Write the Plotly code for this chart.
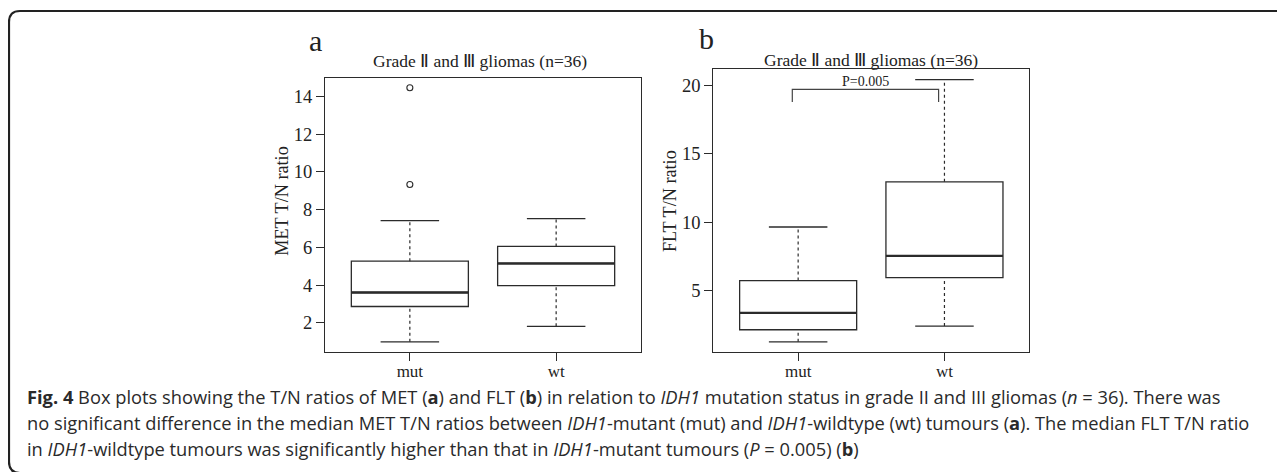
import plotly.graph_objects as go

# ---------------- data ----------------
groups = ["mut", "wt"]
positions = [1, 2]

# Panel a: MET T/N ratio
met_lower = [1.00, 1.82]
met_q1 = [2.87, 3.98]
met_median = [3.61, 5.15]
met_q3 = [5.27, 6.05]
met_upper = [7.42, 7.52]
met_outliers_mut = [9.33, 14.45]
met_yticks = [2, 4, 6, 8, 10, 12, 14]

# Panel b: FLT T/N ratio
flt_lower = [1.28, 2.43]
flt_q1 = [2.16, 5.97]
flt_median = [3.39, 7.55]
flt_q3 = [5.75, 12.96]
flt_upper = [9.66, 20.41]
flt_yticks = [5, 10, 15, 20]

# significance bracket (panel b)
sig_x = [0.96, 1.96]
sig_y = 19.71
sig_drop = 18.78
sig_label = "P=0.005"

title_txt = "Grade \u2161 and \u2162 gliomas (n=36)"

W, H = 1285, 472
OFF = 8  # page body margin
def px(x):
    return (x - OFF) / W
def py(y):
    return 1 - (y - OFF) / H

BOXW = 0.8
CAPW = 0.4
LC = "#2b2b2b"
SERIF = "Liberation Serif, Times New Roman, serif"

fig = go.Figure()

def add_panel(xa, ya, lower, q1, med, q3, upper):
    for i, p in enumerate(positions):
        fig.add_trace(go.Box(
            x=[p], q1=[q1[i]], median=[med[i]], q3=[q3[i]],
            lowerfence=[q1[i]], upperfence=[q3[i]],
            width=BOXW, whiskerwidth=0, fillcolor="white",
            line=dict(color=LC, width=1.3), boxpoints=False,
            showlegend=False, hoverinfo="skip", xaxis=xa, yaxis=ya))
        # dashed whiskers
        fig.add_trace(go.Scatter(
            x=[p, p, None, p, p], y=[lower[i], q1[i], None, q3[i], upper[i]],
            mode="lines", line=dict(color=LC, width=1.2, dash="3px,3px"),
            showlegend=False, hoverinfo="skip", xaxis=xa, yaxis=ya))
        # caps
        fig.add_trace(go.Scatter(
            x=[p - CAPW / 2, p + CAPW / 2, None, p - CAPW / 2, p + CAPW / 2],
            y=[lower[i], lower[i], None, upper[i], upper[i]],
            mode="lines", line=dict(color=LC, width=1.3),
            showlegend=False, hoverinfo="skip", xaxis=xa, yaxis=ya))
        # thick median
        fig.add_trace(go.Scatter(
            x=[p - BOXW / 2, p + BOXW / 2], y=[med[i], med[i]],
            mode="lines", line=dict(color=LC, width=2.4),
            showlegend=False, hoverinfo="skip", xaxis=xa, yaxis=ya))

add_panel("x", "y", met_lower, met_q1, met_median, met_q3, met_upper)
fig.add_trace(go.Scatter(
    x=[positions[0]] * len(met_outliers_mut), y=met_outliers_mut, mode="markers",
    marker=dict(symbol="circle-open", size=6, color=LC, line=dict(width=1.1)),
    showlegend=False, hoverinfo="skip", xaxis="x", yaxis="y"))

add_panel("x2", "y2", flt_lower, flt_q1, flt_median, flt_q3, flt_upper)
fig.add_trace(go.Scatter(
    x=[sig_x[0], sig_x[0], sig_x[1], sig_x[1]],
    y=[sig_drop, sig_y, sig_y, sig_drop],
    mode="lines", line=dict(color="#444", width=1.2),
    showlegend=False, hoverinfo="skip", xaxis="x2", yaxis="y2"))

axis_common = dict(showline=True, mirror=True, linecolor=LC, linewidth=1.3,
                   ticks="outside", ticklen=8, tickwidth=1.2, tickcolor=LC,
                   showgrid=False, zeroline=False)
xfont = dict(family=SERIF, size=17, color="#222")
yfont = dict(family=SERIF, size=18.5, color="#222")

fig.update_layout(
    width=W, height=H, margin=dict(l=0, r=0, t=0, b=0),
    paper_bgcolor="white", plot_bgcolor="white", showlegend=False,
    xaxis=dict(domain=[px(325), px(641)], range=[0.42, 2.58],
               tickvals=positions, ticktext=groups, anchor="y",
               tickfont=xfont, ticklabelstandoff=-5, **axis_common),
    yaxis=dict(domain=[py(352), py(78)], range=[0.46, 14.97],
               tickvals=met_yticks, anchor="x", tickfont=yfont, **axis_common),
    xaxis2=dict(domain=[px(713.3), px(1029.3)], range=[0.42, 2.58],
                tickvals=positions, ticktext=groups, anchor="y2",
                tickfont=xfont, ticklabelstandoff=-5, **axis_common),
    yaxis2=dict(domain=[py(352.3), py(69.3)], range=[0.515, 21.17],
                tickvals=flt_yticks, anchor="x2", tickfont=yfont, **axis_common),
)

ann = []
def txt(x, y, s, size, family=SERIF, xanchor="center", angle=0, color="#222"):
    ann.append(dict(x=px(x), y=py(y), xref="paper", yref="paper", text=s,
                    showarrow=False, xanchor=xanchor, yanchor="middle",
                    textangle=angle, font=dict(family=family, size=size, color=color)))

txt(315, 40, "a", 30)
txt(706.7, 38, "b", 30)
txt(480, 61, title_txt, 17.5)
txt(871, 60, title_txt, 17.5)
txt(281.7, 201, "MET T/N ratio", 18.2, angle=-90)
txt(670, 201, "FLT T/N ratio", 18.2, angle=-90)

ann.append(dict(x=(sig_x[0] + sig_x[1]) / 2, y=20.25, xref="x2", yref="y2",
                text=sig_label, showarrow=False, yanchor="middle",
                font=dict(family=SERIF, size=14, color="#222")))

CAP = "Open Sans, Noto Sans, sans-serif"
cap_lines = [
    "<b>Fig. 4</b> Box plots showing the T/N ratios of MET (<b>a</b>) and FLT (<b>b</b>) in relation to <i>IDH1</i> mutation status in grade II and III gliomas (<i>n</i> = 36). There was",
    "no significant difference in the median MET T/N ratios between <i>IDH1</i>-mutant (mut) and <i>IDH1</i>-wildtype (wt) tumours (<b>a</b>). The median FLT T/N ratio",
    "in <i>IDH1</i>-wildtype tumours was significantly higher than that in <i>IDH1</i>-mutant tumours (<i>P</i> = 0.005) (<b>b</b>)",
]
for yy, line in zip([396, 422, 448], cap_lines):
    txt(25, yy, line, 18.3, family=CAP, xanchor="left", color="#2a2a2a")

fig.update_layout(annotations=ann)

# rounded figure frame
r = 11
x0, y0, y1 = 9, 11, 472 + 1
path = (f"M {px(1320)},{py(y0)} L {px(x0 + r)},{py(y0)} "
        f"Q {px(x0)},{py(y0)} {px(x0)},{py(y0 + r)} "
        f"L {px(x0)},{py(y1 - r)} Q {px(x0)},{py(y1)} {px(x0 + r)},{py(y1)} "
        f"L {px(1320)},{py(y1)}")
fig.add_shape(type="path", path=path, xref="paper", yref="paper",
              line=dict(color="#222", width=2.2), layer="above")

fig.write_html("out.html")
